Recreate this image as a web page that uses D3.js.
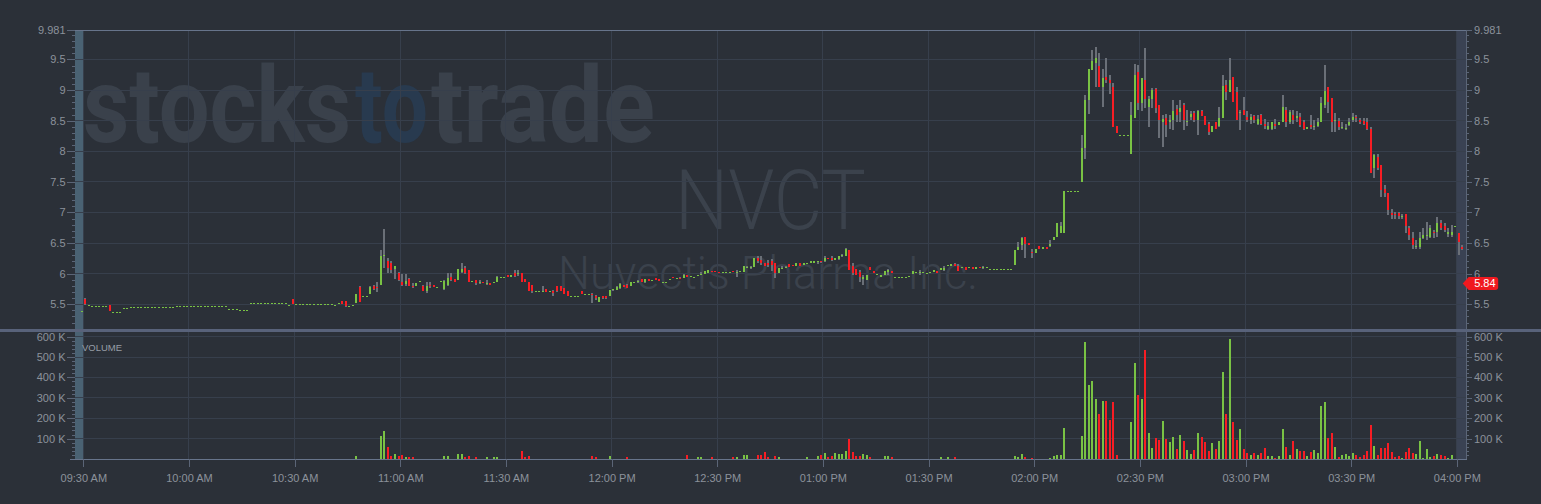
<!DOCTYPE html>
<html><head><meta charset="utf-8">
<script src="https://cdn.jsdelivr.net/npm/d3@7"></script>
<style>
html,body{margin:0;padding:0;background:#2b3038;}
svg{display:block;}
</style></head><body>
<svg id="chart" width="1541" height="504"></svg>
<script>
// ---------- DATA (1-minute bars: [open, high, low, close, volume in K]) ----------
const symbol = "NVCT";
const companyName = "Nuvectis Pharma Inc.";
const firstBarMinute = -1; // 09:29 (pre-market)
// 09:29 - 10:29
const bars0930 = [
[5.39,5.39,5.39,5.39,0],[5.58,5.60,5.49,5.50,0],[5.49,5.49,5.49,5.49,0],
[5.465,5.465,5.465,5.465,0],[5.465,5.465,5.465,5.465,0],[5.465,5.465,5.465,5.465,0],[5.465,5.465,5.465,5.465,0],[5.465,5.465,5.465,5.465,0],
[5.49,5.49,5.39,5.39,0],
[5.38,5.38,5.38,5.38,0],[5.38,5.38,5.38,5.38,0],[5.38,5.38,5.38,5.38,0],
[5.43,5.43,5.43,5.43,0],[5.43,5.43,5.43,5.43,0],
[5.45,5.45,5.45,5.45,0],[5.45,5.45,5.45,5.45,0],[5.45,5.45,5.45,5.45,0],[5.45,5.45,5.45,5.45,0],[5.45,5.45,5.45,5.45,0],
[5.45,5.45,5.45,5.45,0],[5.45,5.45,5.45,5.45,0],[5.45,5.45,5.45,5.45,0],[5.45,5.45,5.45,5.45,0],[5.45,5.45,5.45,5.45,0],
[5.45,5.45,5.45,5.45,0],[5.45,5.45,5.45,5.45,0],[5.45,5.45,5.45,5.45,0],
[5.465,5.465,5.465,5.465,0],[5.465,5.465,5.465,5.465,0],[5.465,5.465,5.465,5.465,0],[5.465,5.465,5.465,5.465,0],[5.465,5.465,5.465,5.465,0],
[5.465,5.465,5.465,5.465,0],[5.465,5.465,5.465,5.465,0],[5.465,5.465,5.465,5.465,0],[5.465,5.465,5.465,5.465,0],[5.465,5.465,5.465,5.465,0],
[5.465,5.465,5.465,5.465,0],[5.465,5.465,5.465,5.465,0],[5.465,5.465,5.465,5.465,0],[5.465,5.465,5.465,5.465,0],[5.465,5.465,5.465,5.465,0],
[5.415,5.415,5.415,5.415,0],[5.415,5.415,5.415,5.415,0],[5.415,5.415,5.415,5.415,0],
[5.40,5.40,5.40,5.40,0],[5.40,5.40,5.40,5.40,0],[5.40,5.40,5.40,5.40,0],
[5.515,5.515,5.515,5.515,0],[5.515,5.515,5.515,5.515,0],[5.515,5.515,5.515,5.515,0],[5.515,5.515,5.515,5.515,0],[5.515,5.515,5.515,5.515,0],
[5.515,5.515,5.515,5.515,0],[5.515,5.515,5.515,5.515,0],[5.515,5.515,5.515,5.515,0],[5.515,5.515,5.515,5.515,0],[5.515,5.515,5.515,5.515,0],
[5.515,5.515,5.515,5.515,0],
[5.48,5.48,5.48,5.48,0],[5.58,5.59,5.50,5.51,0]
];
// 10:30 - 11:29
const bars1030 = [
[5.50,5.50,5.50,5.50,0],[5.50,5.50,5.50,5.50,0],[5.50,5.50,5.50,5.50,0],[5.50,5.50,5.50,5.50,0],[5.50,5.50,5.50,5.50,0],
[5.50,5.50,5.50,5.50,0],[5.50,5.50,5.50,5.50,0],[5.50,5.50,5.50,5.50,0],[5.50,5.50,5.50,5.50,0],[5.50,5.50,5.50,5.50,0],
[5.50,5.50,5.50,5.50,0],
[5.48,5.48,5.48,5.48,0],[5.52,5.52,5.52,5.52,0],[5.55,5.56,5.51,5.51,0],[5.55,5.56,5.46,5.47,0],
[5.47,5.47,5.47,5.47,0],[5.49,5.49,5.49,5.49,0],[5.52,5.66,5.52,5.66,15],[5.78,5.80,5.54,5.54,0],
[5.64,5.64,5.64,5.64,0],[5.64,5.64,5.64,5.64,0],[5.66,5.80,5.66,5.78,0],[5.80,5.81,5.73,5.75,0],
[5.78,5.87,5.70,5.76,0],[5.82,6.39,5.82,6.29,113],[6.29,6.73,6.09,6.31,137],[6.21,6.25,6.01,6.09,59],
[6.17,6.20,6.01,6.06,15],[6.07,6.12,5.91,6.12,25],[6.01,6.02,5.88,5.89,15],[5.86,6.00,5.79,5.82,20],
[5.83,6.00,5.79,5.88,10],[5.92,5.93,5.79,5.79,10],[5.80,5.84,5.76,5.78,10],[5.79,5.84,5.79,5.84,0],
[5.88,5.88,5.88,5.88,0],[5.79,5.82,5.71,5.72,0],[5.71,5.87,5.69,5.79,0],[5.82,5.87,5.76,5.79,0],
[5.82,5.82,5.78,5.78,0],[5.78,5.78,5.78,5.78,0],[5.88,5.88,5.88,5.88,0],[5.75,5.90,5.74,5.88,15],
[5.82,6.01,5.79,5.93,15],[5.95,6.01,5.88,5.89,0],[5.91,5.91,5.87,5.87,0],[5.89,6.07,5.89,6.07,25],
[6.03,6.17,6.01,6.07,25],[6.09,6.12,6.00,6.01,10],[6.06,6.06,5.87,5.87,15],[5.88,5.88,5.88,5.88,0],
[5.90,5.90,5.82,5.84,10],[5.84,5.90,5.83,5.87,0],[5.87,5.87,5.84,5.84,0],[5.83,5.89,5.82,5.85,10],
[5.85,5.85,5.82,5.82,0],[5.84,5.87,5.84,5.87,10],[5.87,5.96,5.86,5.95,10],[5.95,5.95,5.95,5.95,0],
[5.94,5.94,5.94,5.94,0]
];
// 11:30 - 12:29
const bars1130 = [
[5.98,5.98,5.94,5.95,0],[5.94,5.98,5.94,5.98,0],[6.01,6.06,5.95,5.96,0],[5.99,6.06,5.96,6.01,0],
[6.01,6.01,5.87,5.87,39],[5.91,5.91,5.86,5.86,10],[5.87,5.87,5.71,5.71,15],[5.82,5.82,5.68,5.71,0],
[5.72,5.72,5.72,5.72,0],[5.71,5.71,5.71,5.71,0],[5.71,5.79,5.71,5.72,0],[5.745,5.75,5.70,5.70,0],
[5.71,5.71,5.71,5.71,0],[5.72,5.735,5.63,5.68,0],[5.79,5.80,5.70,5.71,0],[5.79,5.79,5.71,5.71,0],
[5.76,5.76,5.67,5.67,0],[5.71,5.71,5.64,5.64,0],[5.63,5.63,5.63,5.63,0],[5.63,5.63,5.63,5.63,0],
[5.63,5.63,5.63,5.63,0],[5.72,5.72,5.66,5.66,0],[5.675,5.675,5.675,5.675,0],[5.675,5.675,5.675,5.675,0],
[5.67,5.68,5.52,5.66,15],[5.63,5.65,5.57,5.60,10],[5.54,5.62,5.53,5.61,0],[5.63,5.64,5.59,5.60,0],
[5.63,5.64,5.59,5.60,0],[5.64,5.74,5.63,5.73,15],[5.725,5.75,5.72,5.745,0],[5.735,5.79,5.73,5.78,0],
[5.76,5.84,5.75,5.83,0],[5.81,5.82,5.78,5.78,0],[5.82,5.83,5.76,5.76,10],[5.79,5.87,5.79,5.86,0],
[5.855,5.855,5.855,5.855,0],[5.855,5.89,5.85,5.88,0],[5.91,5.92,5.87,5.87,0],[5.855,5.91,5.85,5.91,0],
[5.91,5.92,5.88,5.88,0],[5.89,5.89,5.89,5.89,0],[5.93,5.93,5.89,5.89,0],[5.91,5.91,5.88,5.88,0],
[5.87,5.87,5.87,5.87,0],[5.86,5.86,5.86,5.86,0],[5.915,5.915,5.915,5.915,0],[5.94,5.94,5.93,5.93,0],
[5.93,5.93,5.93,5.93,0],[5.935,5.94,5.93,5.93,0],[5.93,5.99,5.93,5.97,0],[5.98,5.98,5.95,5.95,20],
[5.95,5.96,5.95,5.96,0],[5.95,5.95,5.95,5.95,0],[5.97,5.97,5.97,5.97,10],[5.99,6.03,5.99,5.99,10],
[5.99,6.05,5.99,6.04,0],[6.01,6.06,6.01,6.06,0],[6.05,6.05,6.02,6.02,10],[6.04,6.04,6.02,6.02,0]
];
// 12:30 - 13:29
const bars1230 = [
[6.03,6.03,6.02,6.02,0],[6.03,6.03,6.03,6.03,0],[6.03,6.03,6.03,6.03,0],[6.03,6.03,6.03,6.03,0],
[6.035,6.04,6.03,6.03,10],[6.03,6.06,5.95,6.03,10],[6.045,6.045,6.045,6.045,0],[6.03,6.12,6.03,6.12,20],
[6.09,6.12,6.09,6.115,20],[6.09,6.12,6.07,6.10,0],[6.115,6.25,6.115,6.25,0],[6.26,6.28,6.17,6.20,20],
[6.225,6.28,6.14,6.17,20],[6.17,6.17,6.13,6.13,34],[6.17,6.22,6.11,6.14,10],[6.20,6.24,6.04,6.14,0],
[6.18,6.18,5.93,6.01,15],[6.01,6.09,6.01,6.09,10],[6.09,6.12,6.07,6.095,0],[6.09,6.12,6.09,6.115,0],
[6.15,6.15,6.10,6.10,0],[6.14,6.14,6.12,6.12,0],[6.12,6.17,6.12,6.17,0],[6.17,6.17,6.13,6.13,0],
[6.145,6.17,6.145,6.17,0],[6.155,6.18,6.155,6.18,10],[6.17,6.20,6.17,6.20,0],[6.17,6.20,6.17,6.20,0],
[6.19,6.21,6.16,6.20,15],[6.21,6.21,6.18,6.19,20],[6.20,6.28,6.19,6.26,29],[6.26,6.26,6.25,6.25,10],
[6.25,6.28,6.20,6.225,15],[6.22,6.26,6.22,6.26,29],[6.24,6.29,6.23,6.28,25],[6.28,6.32,6.27,6.30,25],
[6.29,6.42,6.28,6.40,39],[6.39,6.39,6.06,6.06,98],[6.12,6.17,5.98,6.01,34],[6.07,6.07,5.98,5.98,15],
[6.03,6.06,5.87,5.95,15],[5.91,5.98,5.82,5.95,25],[5.89,5.98,5.89,5.98,20],[6.10,6.11,6.06,6.06,10],
[6.035,6.035,6.01,6.01,0],[5.99,5.99,5.99,5.99,0],[5.95,5.98,5.95,5.98,0],[5.98,6.035,5.98,6.035,15],
[6.02,6.07,5.98,6.06,15],[6.035,6.035,6.01,6.01,10],[5.95,5.95,5.95,5.95,0],[5.95,5.95,5.95,5.95,0],
[5.95,5.95,5.95,5.95,0],[5.95,5.95,5.95,5.95,0],[5.96,5.96,5.96,5.96,0],[5.995,6.035,5.995,6.035,0],
[6.02,6.02,6.02,6.02,0],[6.01,6.06,5.98,6.02,0],[6.02,6.02,6.02,6.02,0],[6.01,6.01,6.01,6.01,0]
];
// 13:30 - 14:29
const bars1330 = [
[6.02,6.02,6.02,6.02,0],[6.02,6.06,6.02,6.06,0],[6.05,6.05,6.01,6.01,0],[6.06,6.09,6.06,6.09,10],
[6.06,6.12,6.035,6.09,0],[6.12,6.14,6.12,6.14,10],[6.12,6.155,6.12,6.155,0],[6.155,6.18,6.12,6.12,10],
[6.12,6.15,6.035,6.035,0],[6.09,6.115,6.09,6.115,0],[6.10,6.10,6.06,6.06,0],[6.09,6.115,6.09,6.115,0],
[6.10,6.10,6.07,6.07,0],[6.08,6.10,6.08,6.10,0],[6.115,6.115,6.09,6.09,0],[6.09,6.13,6.08,6.115,0],
[6.10,6.10,6.10,6.10,0],
[6.08,6.08,6.08,6.08,0],[6.08,6.08,6.08,6.08,0],[6.08,6.08,6.08,6.08,0],[6.08,6.08,6.08,6.08,0],
[6.08,6.08,6.08,6.08,0],[6.08,6.08,6.08,6.08,0],[6.08,6.08,6.08,6.08,0],
[6.14,6.385,6.14,6.385,16],[6.385,6.52,6.385,6.44,11],[6.47,6.60,6.38,6.58,26],[6.60,6.60,6.25,6.49,11],
[6.50,6.50,6.47,6.47,0],[6.36,6.41,6.25,6.33,6],[6.33,6.40,6.33,6.40,0],[6.45,6.45,6.41,6.41,0],
[6.41,6.44,6.41,6.44,0],[6.44,6.44,6.41,6.41,0],[6.45,6.55,6.44,6.48,6],[6.55,6.60,6.55,6.60,13],
[6.60,6.83,6.60,6.83,18],[6.67,6.85,6.66,6.78,21],[6.67,7.35,6.67,7.35,154],
[7.35,7.35,7.35,7.35,0],[7.35,7.35,7.35,7.35,0],[7.35,7.35,7.35,7.35,0],[7.35,7.35,7.35,7.35,0],
[7.50,8.26,7.50,8.06,114],[8.06,8.92,7.87,8.84,575],[8.84,9.35,8.61,9.35,364],[9.33,9.66,9.33,9.48,384],
[9.44,9.71,9.05,9.52,296],[9.39,9.60,9.05,9.05,222],[9.05,9.35,8.73,9.19,286],[9.22,9.52,9.11,9.16,286],
[9.17,9.24,8.94,9.11,193],[9.05,9.12,8.40,8.40,281],[8.41,8.41,8.29,8.29,21],
[8.27,8.27,8.27,8.27,0],[8.27,8.27,8.27,8.27,0],[8.27,8.27,8.27,8.27,0],
[7.96,8.81,7.96,8.59,183],[8.54,9.43,8.54,9.24,472],[9.30,9.41,8.67,8.78,315]
];
// 14:30 - 15:29
const bars1430 = [
[8.78,9.19,8.65,9.19,296],[9.17,9.68,8.70,8.86,536],[8.73,8.91,8.40,8.86,129],[8.86,9.03,8.70,9.00,56],
[9.01,9.03,8.62,8.70,105],[8.75,8.75,8.21,8.51,95],[8.47,8.59,8.07,8.52,188],[8.54,8.61,8.24,8.43,100],
[8.47,8.59,8.37,8.51,85],[8.51,8.84,8.35,8.66,109],[8.69,8.75,8.48,8.59,51],[8.64,8.84,8.48,8.71,119],
[8.75,8.78,8.35,8.51,90],[8.49,8.68,8.41,8.50,46],[8.56,8.65,8.51,8.61,26],[8.62,8.65,8.48,8.51,46],
[8.51,8.67,8.26,8.66,129],[8.65,8.67,8.57,8.57,109],[8.57,8.57,8.43,8.43,85],[8.45,8.48,8.26,8.32,41],
[8.32,8.41,8.32,8.41,80],[8.48,8.48,8.37,8.37,51],[8.41,8.73,8.40,8.55,90],[8.55,9.24,8.54,9.06,428],
[9.08,9.17,8.84,8.97,222],[8.97,9.52,8.97,9.16,590],[9.21,9.21,8.81,8.81,183],[8.97,9.05,8.51,8.51,95],
[8.63,8.68,8.35,8.64,149],[8.67,8.89,8.59,8.59,51],[8.56,8.65,8.48,8.51,31],[8.51,8.61,8.44,8.56,21],
[8.58,8.59,8.46,8.51,31],[8.44,8.59,8.43,8.52,21],[8.59,8.61,8.43,8.45,31],[8.45,8.52,8.36,8.41,56],
[8.37,8.48,8.35,8.41,16],[8.37,8.48,8.35,8.47,16],[8.45,8.52,8.37,8.41,7],[8.43,8.48,8.43,8.48,16],
[8.48,8.92,8.48,8.73,149],[8.68,8.72,8.40,8.48,60],[8.48,8.68,8.45,8.64,21],[8.59,8.67,8.44,8.51,90],
[8.55,8.65,8.48,8.57,51],[8.56,8.62,8.40,8.43,41],[8.48,8.51,8.35,8.37,41],[8.37,8.39,8.37,8.39,16],
[8.43,8.59,8.37,8.39,36],[8.39,8.51,8.35,8.41,46],[8.41,8.54,8.39,8.48,31],[8.48,8.89,8.48,8.78,261],
[8.75,9.41,8.70,8.99,281],[9.05,9.05,8.62,8.81,105],[8.87,8.87,8.32,8.48,129],[8.50,8.62,8.32,8.51,60],
[8.50,8.54,8.35,8.39,11],[8.40,8.47,8.37,8.40,21],[8.38,8.45,8.35,8.38,26],[8.43,8.54,8.41,8.48,16]
];
// 15:30 - 16:01 (incl. post-market)
const bars1530 = [
[8.51,8.63,8.48,8.56,31],[8.56,8.59,8.48,8.54,21],[8.51,8.54,8.44,8.48,11],[8.49,8.54,8.43,8.45,21],
[8.48,8.54,8.35,8.37,41],[8.37,8.40,7.64,7.64,168],[7.72,7.95,7.56,7.94,65],[7.90,7.95,7.69,7.72,21],
[7.77,7.77,7.26,7.37,56],[7.38,7.45,7.26,7.32,56],[7.31,7.31,6.96,7.04,80],[6.99,7.05,6.90,6.96,36],
[6.97,7.00,6.90,6.96,11],[6.99,7.00,6.90,6.94,16],[6.93,6.98,6.90,6.94,7],[6.97,6.97,6.67,6.77,36],
[6.74,6.77,6.55,6.63,56],[6.58,6.68,6.41,6.47,31],[6.44,6.55,6.40,6.45,26],[6.44,6.68,6.41,6.58,90],
[6.58,6.74,6.56,6.63,7],[6.62,6.85,6.55,6.63,51],[6.60,6.79,6.58,6.74,11],[6.68,6.71,6.58,6.66,16],
[6.68,6.93,6.60,6.83,26],[6.82,6.88,6.71,6.74,21],[6.77,6.82,6.68,6.71,16],[6.64,6.74,6.60,6.68,7],
[6.63,6.79,6.60,6.68,21],[6.78,6.78,6.78,6.78,0],[6.66,6.66,6.30,6.52,0],[6.44,6.47,6.39,6.40,0]
];
const priceTicks = [5.5, 6, 6.5, 7, 7.5, 8, 8.5, 9, 9.5];
const priceMax = 9.981;
const volumeTicks = [100000, 200000, 300000, 400000, 500000, 600000];
const lastPriceTag = 5.84;

// ---------- CHART ----------
const W = 1541, H = 504;
const C = {bg:"#2b3038", grid:"#373f4c", tick:"#5b6577", text:"#8c929b", up:"#79c244", down:"#f71d24",
  wick:"#6a6f77", pre:"#4a6273", post:"#3a4253", border:"#67748b", sep:"#58627a", wm:"#3a414b", wmBlue:"#283a4f"};
const left = 75, right = 1466.7, pTop = 30, pBot = 329, vTop = 331.5, vBot = 459;

const bars = [].concat(bars0930, bars1030, bars1130, bars1230, bars1330, bars1430, bars1530)
  .map((b, i) => ({m: firstBarMinute + i, o:b[0], h:b[1], l:b[2], c:b[3], v:b[4]*1000}));

const t0 = new Date(2024, 0, 2, 9, 30);
const tm = m => new Date(t0.getTime() + m * 60000);
const x = d3.scaleTime().domain([tm(-2.357), tm(392.8)]).range([left, right]);
const y = d3.scaleLinear().domain([5.095, priceMax]).range([pBot, pTop]);
const yv = d3.scaleLinear().domain([0, 625000]).range([vBot, vTop]);

const svg = d3.select("#chart");
svg.append("rect").attr("width", W).attr("height", H).attr("fill", C.bg);

// extended hours shading
svg.append("rect").attr("x", left).attr("y", pTop).attr("width", x(tm(0)) - left).attr("height", vBot - pTop).attr("fill", C.pre);
svg.append("rect").attr("x", x(tm(390))).attr("y", pTop).attr("width", right - x(tm(390))).attr("height", vBot - pTop).attr("fill", C.post);

// watermarks: text horizontally scaled by transform so boxes match the drawn width
const wm = svg.append("g").attr("font-family", "Roboto, 'Liberation Sans', sans-serif");
function wmText(t, x0, yb, w, size, weight, col) {
  const el = wm.append("text").attr("x", 0).attr("y", 0).attr("font-size", size).attr("font-weight", weight).attr("fill", col).text(t);
  const L = el.node().getComputedTextLength() || w;
  el.attr("transform", `translate(${x0},${yb}) scale(${w / L},1)`);
}
wmText("stocks", 83, 142, 268, 106, 700, C.wm);
wmText("to", 355, 142, 73, 106, 700, C.wmBlue);
wmText("trade", 431, 142, 224, 106, 700, C.wm);
wmText(symbol, 675, 229, 191, 84, 300, "#3b424c");
wmText(companyName, 558, 289, 420, 47, 300, "#3b424c");

// grid
const grid = svg.append("g").attr("stroke", C.grid).attr("shape-rendering", "crispEdges");
const xTicks = x.ticks(d3.timeMinute.every(30));
grid.selectAll(".vg").data(xTicks).join("line").attr("x1", d => x(d)).attr("x2", d => x(d)).attr("y1", pTop).attr("y2", vBot);
grid.selectAll(".pg").data(priceTicks).join("line").attr("x1", left).attr("x2", right).attr("y1", d => y(d)).attr("y2", d => y(d));
grid.selectAll(".vgr").data(volumeTicks).join("line").attr("x1", left).attr("x2", right).attr("y1", d => yv(d)).attr("y2", d => yv(d));

// frame lines
const fr = svg.append("g").attr("shape-rendering", "crispEdges");
fr.append("line").attr("x1", left).attr("x2", right).attr("y1", pTop + 0.5).attr("y2", pTop + 0.5).attr("stroke", C.border);
fr.append("line").attr("x1", right).attr("x2", right).attr("y1", pTop).attr("y2", vBot).attr("stroke", C.tick);
fr.append("line").attr("x1", 70).attr("x2", right).attr("y1", vBot).attr("y2", vBot).attr("stroke", C.border);
fr.append("rect").attr("x", 0).attr("y", 329.3).attr("width", W).attr("height", 2.6).attr("fill", C.sep);

// candles
const cx = d => x(tm(d.m + 0.5));
const cg = svg.append("g").attr("shape-rendering", "crispEdges");
cg.selectAll(".wick").data(bars.filter(d => d.h > d.l)).join("rect")
  .attr("x", d => cx(d) - 1).attr("width", 2).attr("y", d => y(d.h)).attr("height", d => Math.max(1, y(d.l) - y(d.h))).attr("fill", C.wick);
cg.selectAll(".body").data(bars).join("rect")
  .attr("x", d => cx(d) - 1).attr("width", 2)
  .attr("y", d => y(Math.max(d.o, d.c)))
  .attr("height", d => Math.max(1, Math.abs(y(d.o) - y(d.c))))
  .attr("fill", d => d.c >= d.o ? C.up : C.down);

// volume
cg.selectAll(".vol").data(bars.filter(d => d.v > 0)).join("rect")
  .attr("x", d => cx(d) - 1).attr("width", 2).attr("y", d => yv(d.v)).attr("height", d => vBot - yv(d.v))
  .attr("fill", d => d.c >= d.o ? C.up : C.down);

// axes
function styleAxis(g) {
  g.select(".domain").remove();
  g.selectAll("line").attr("stroke", C.tick).attr("shape-rendering", "crispEdges");
  g.selectAll("text").attr("fill", C.text).attr("font-family", "'Liberation Sans', Arial, sans-serif").attr("font-size", 11);
}
const minorP = d3.range(51, 100).map(i => i / 10).filter(v => !priceTicks.includes(v));
const minorV = d3.range(1, 31).map(i => i * 20000).filter(v => !volumeTicks.includes(v));
const pFmt = d => String(d);
const vFmt = d => (d / 1000) + " K";

svg.append("g").attr("transform", `translate(${left},0)`).call(d3.axisLeft(y).tickValues([...priceTicks, priceMax]).tickSize(8).tickPadding(1.5).tickFormat(pFmt)).call(styleAxis);
svg.append("g").attr("transform", `translate(${left},0)`).call(d3.axisLeft(y).tickValues(minorP).tickSize(3).tickFormat("")).call(styleAxis);
svg.append("g").attr("transform", `translate(${right},0)`).call(d3.axisRight(y).tickValues([...priceTicks, priceMax]).tickSize(5).tickPadding(2.3).tickFormat(pFmt)).call(styleAxis);
svg.append("g").attr("transform", `translate(${right},0)`).call(d3.axisRight(y).tickValues(minorP).tickSize(2.5).tickFormat("")).call(styleAxis);

svg.append("g").attr("transform", `translate(${left},0)`).call(d3.axisLeft(yv).tickValues(volumeTicks).tickSize(8).tickPadding(1.5).tickFormat(vFmt)).call(styleAxis);
svg.append("g").attr("transform", `translate(${left},0)`).call(d3.axisLeft(yv).tickValues(minorV).tickSize(3).tickFormat("")).call(styleAxis);
svg.append("g").attr("transform", `translate(${right},0)`).call(d3.axisRight(yv).tickValues(volumeTicks).tickSize(5).tickPadding(2.3).tickFormat(vFmt)).call(styleAxis);
svg.append("g").attr("transform", `translate(${right},0)`).call(d3.axisRight(yv).tickValues(minorV).tickSize(2.5).tickFormat("")).call(styleAxis);

svg.append("g").attr("transform", `translate(0,${vBot})`)
  .call(d3.axisBottom(x).tickValues(xTicks).tickSize(8).tickPadding(7).tickFormat(d3.timeFormat("%I:%M %p")))
  .call(styleAxis);

// volume label
svg.append("text").attr("x", 82).attr("y", 350.5).attr("fill", "#979ea7")
  .attr("font-family", "'Liberation Sans', Arial, sans-serif").attr("font-size", 9.5).text("VOLUME");

// last price tag
const ty = y(lastPriceTag);
svg.append("path").attr("fill", "#f0191f")
  .attr("d", `M${right - 4},${ty} L${right + 2},${ty - 6.5} H${right + 28.5} Q${right + 31.5},${ty - 6.5} ${right + 31.5},${ty - 3.5} V${ty + 3.5} Q${right + 31.5},${ty + 6.5} ${right + 28.5},${ty + 6.5} H${right + 2} Z`);
svg.append("text").attr("x", right + 7.5).attr("y", ty).attr("dy", "0.36em").attr("fill", "#ffffff")
  .attr("font-family", "'Liberation Sans', Arial, sans-serif").attr("font-size", 11).text(d3.format(".2f")(lastPriceTag));
</script>
</body></html>
